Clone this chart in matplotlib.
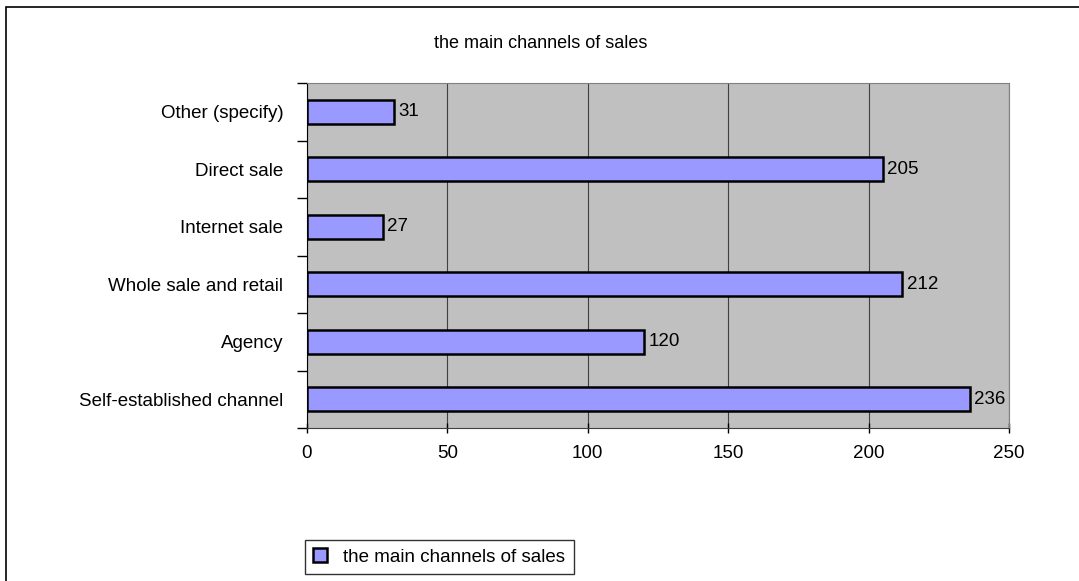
import matplotlib.pyplot as plt
from matplotlib.patches import Rectangle

plt.rcParams['font.family'] = ['Liberation Sans', 'DejaVu Sans']

channels = ['Self-established channel', 'Agency', 'Whole sale and retail',
            'Internet sale', 'Direct sale', 'Other (specify)']
counts = [236, 120, 212, 27, 205, 31]
xticks = [0, 50, 100, 150, 200, 250]
title = 'the main channels of sales'

fs = 13.5

fig = plt.figure(figsize=(10.79, 5.81), dpi=100)
ax = fig.add_axes([307/1079, 1 - 428/581, 702/1079, 345/581])
ax.set_facecolor('#c0c0c0')

pos = list(range(len(channels)))
ax.barh(pos, counts, height=0.42, color='#9999ff', edgecolor='black',
        linewidth=1.8, label=title, zorder=3)
for y, v in zip(pos, counts):
    ax.text(v + 1.5, y, str(v), va='center', ha='left', fontsize=fs, zorder=4)

ax.set_xlim(0, 250)
ax.set_ylim(-0.5, len(channels) - 0.5)
ax.set_xticks(xticks)
ax.set_yticks(pos)
ax.set_yticklabels(channels)
ax.set_yticks([p - 0.5 for p in pos] + [len(pos) - 0.5], minor=True)
ax.tick_params(axis='y', which='major', length=0, pad=17, labelsize=fs)
ax.tick_params(axis='y', which='minor', length=7, width=1, direction='out')
ax.tick_params(axis='x', length=7, width=1, direction='inout', pad=9, labelsize=fs)
ax.grid(axis='x', color='#404040', linewidth=0.8, zorder=1)
ax.spines['left'].set_color('black')
ax.spines['bottom'].set_color('#404040')
ax.spines['right'].set_color('#808080')
ax.spines['top'].set_color('#808080')

fig.text(541/1079, 1 - 43/581, title, ha='center', va='center', fontsize=13)

leg = fig.legend(loc='lower left', bbox_to_anchor=(305/1079, 7/581), borderaxespad=0,
                 fontsize=fs, frameon=True, fancybox=False, edgecolor='black',
                 handlelength=0.7, handleheight=0.7, borderpad=0.45, handletextpad=0.9)
leg.get_frame().set_linewidth(1)

fig.patches.append(Rectangle((6/1079, -0.1), 1.1, 1 - 7/581 + 0.1, transform=fig.transFigure,
                             fill=False, edgecolor='black', linewidth=1.2))

fig.savefig('out.png', dpi=100)
